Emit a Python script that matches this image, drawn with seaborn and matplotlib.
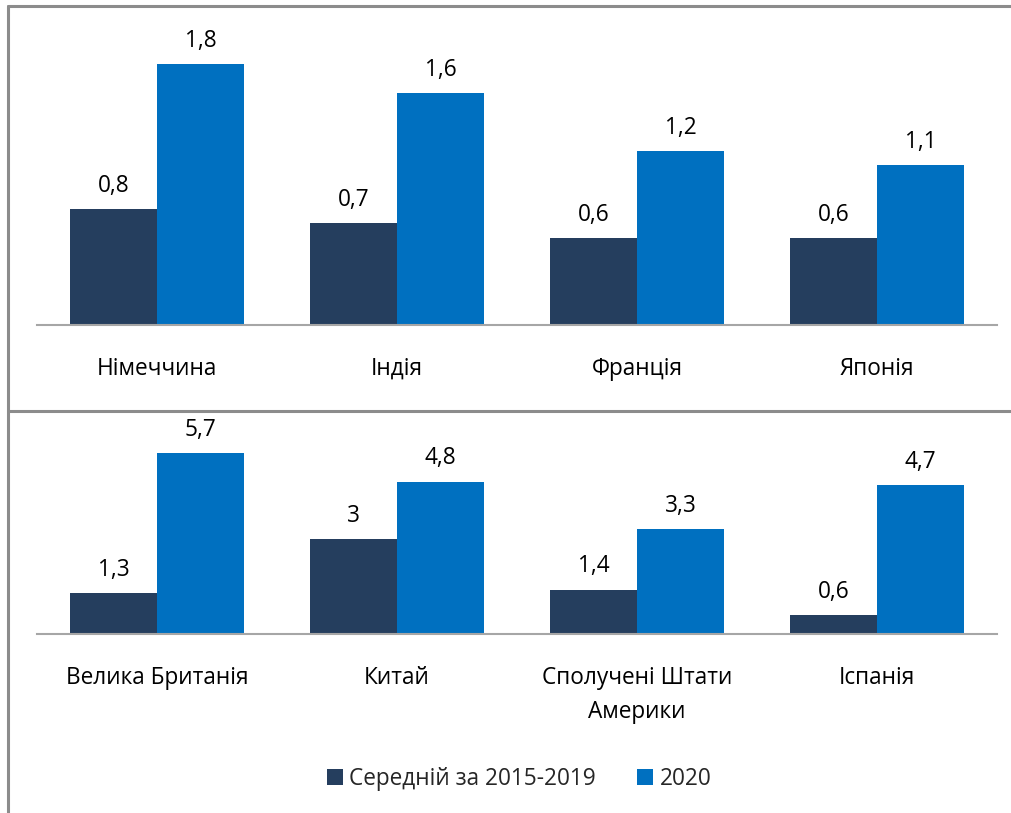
import matplotlib
matplotlib.use("Agg")
import matplotlib.pyplot as plt
from matplotlib.lines import Line2D
from matplotlib.patches import Patch
import seaborn as sns
import pandas as pd

series_names = ["Середній за 2015-2019", "2020"]
top_categories = ["Німеччина", "Індія", "Франція", "Японія"]
top_avg = [0.8, 0.7, 0.6, 0.6]
top_2020 = [1.8, 1.6, 1.2, 1.1]
bottom_categories = ["Велика Британія", "Китай", "Сполучені Штати\nАмерики", "Іспанія"]
bottom_avg = [1.3, 3.0, 1.4, 0.6]
bottom_2020 = [5.7, 4.8, 3.3, 4.7]

colors = ["#253E5E", "#0070C0"]
FS = 16.3

sns.set_theme(style="white")
plt.rcParams['font.family'] = ['Open Sans', 'DejaVu Sans']

W, H = 1011, 813
fig = plt.figure(figsize=(W / 100, H / 100), dpi=100)

def px_axes(x0, x1, ytop, ybase):
    return fig.add_axes([x0 / W, (H - ybase) / H, (x1 - x0) / W, (ybase - ytop) / H])

def make_df(cats, a, b):
    rows = []
    for c, v in zip(cats, a):
        rows.append({"cat": c, "series": series_names[0], "val": v})
    for c, v in zip(cats, b):
        rows.append({"cat": c, "series": series_names[1], "val": v})
    return pd.DataFrame(rows)

def fmt(v):
    s = f"{v:g}"
    return s.replace(".", ",")

def draw(ax, cats, a, b, ymax):
    df = make_df(cats, a, b)
    sns.barplot(data=df, x="cat", y="val", hue="series", order=cats,
                hue_order=series_names, palette=colors, width=0.725,
                saturation=1, ax=ax, legend=False, edgecolor="none")
    for cont in ax.containers:
        ax.bar_label(cont, labels=[fmt(r.get_height()) for r in cont],
                     padding=8, fontsize=FS, color="#000000")
    ax.set_xlim(-0.5, len(cats) - 0.5)
    ax.set_ylim(0, ymax)
    ax.set_xlabel("")
    ax.set_ylabel("")
    ax.set_yticks([])
    ax.set_xticks(range(len(cats)))
    ax.set_xticklabels(cats, fontsize=FS, color="#000000", linespacing=1.55, va="top")
    for s in ["top", "right", "left"]:
        ax.spines[s].set_visible(False)
    ax.spines["bottom"].set_color("#A6A6A6")
    ax.spines["bottom"].set_linewidth(1.5)
    ax.tick_params(axis="x", length=0, pad=23)
    ax.patch.set_alpha(0)

ax1 = px_axes(37, 997, 10, 325)
draw(ax1, top_categories, top_avg, top_2020, 315 / 145)
ax2 = px_axes(37, 997, 420, 634)
draw(ax2, bottom_categories, bottom_avg, bottom_2020, 214 / 31.75)

# frame lines
lc = "#8C8C8C"
fig.add_artist(Line2D([8 / W, 1.0], [(H - 6) / H, (H - 6) / H], color=lc, lw=2.2, transform=fig.transFigure))
fig.add_artist(Line2D([8 / W, 8 / W], [0, (H - 6) / H], color=lc, lw=2.2, transform=fig.transFigure))
fig.add_artist(Line2D([8 / W, 1.0], [(H - 411) / H, (H - 411) / H], color=lc, lw=2.2, transform=fig.transFigure))

handles = [Patch(facecolor=c, edgecolor="none") for c in colors]
fig.legend(handles, series_names, loc="center", bbox_to_anchor=(519 / W, (H - 779) / H),
           ncol=2, frameon=False, fontsize=FS, handlelength=0.7, handleheight=0.7,
           handletextpad=0.3, columnspacing=1.8)

fig.savefig("out.png", dpi=100)
